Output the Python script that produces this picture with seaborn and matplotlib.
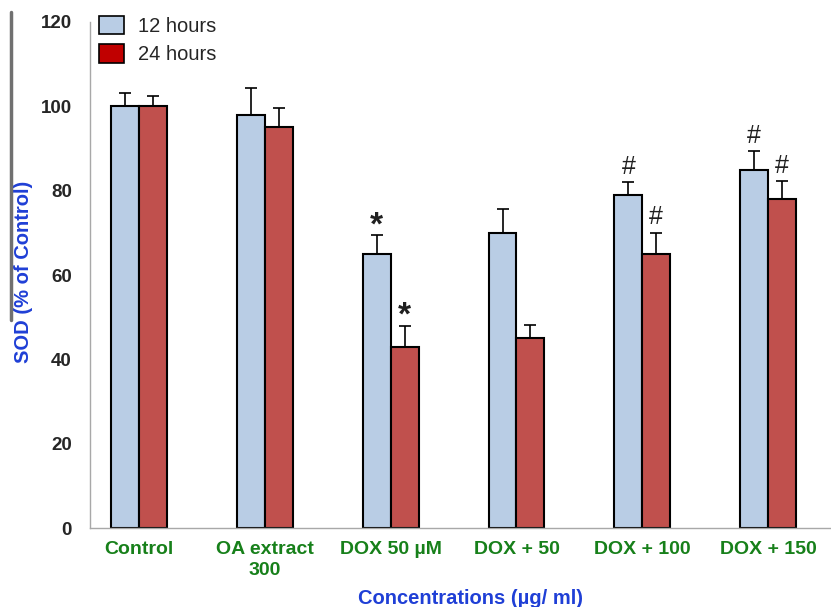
import matplotlib
matplotlib.use('Agg')
import matplotlib.pyplot as plt
import seaborn as sns
import pandas as pd
from matplotlib.patches import Patch
from matplotlib.lines import Line2D

groups = ['Control', 'OA extract\n300', 'DOX 50 µM', 'DOX + 50', 'DOX + 100', 'DOX + 150']
hours = ['12 hours', '24 hours']
sod_12h = [100, 98, 65, 70, 79, 85]
sod_24h = [100, 95, 43, 45, 65, 78]
err_12h = [3.2, 6.3, 4.5, 5.7, 3.0, 4.4]
err_24h = [2.4, 4.6, 5.0, 3.2, 5.0, 4.3]
marks_12h = ['', '', '*', '', '#', '#']
marks_24h = ['', '', '*', '', '#', '#']

df = pd.DataFrame({
    'group': groups * 2,
    'time': [hours[0]] * len(groups) + [hours[1]] * len(groups),
    'sod': sod_12h + sod_24h,
})

sns.set_style('white')
plt.rcParams['font.family'] = ['Liberation Sans', 'DejaVu Sans']

fig = plt.figure(figsize=(8.31, 6.07), dpi=100)
ax = fig.add_axes([0.1083, 0.1301, 0.8917, 0.8337])

bar_colors = ['#B9CDE5', '#C0504D']
sns.barplot(data=df, x='group', y='sod', hue='time', palette=bar_colors,
            saturation=1, width=0.444, gap=0, edgecolor='black', linewidth=1.5,
            errorbar=None, legend=False, ax=ax)

# upper error bars and significance marks
for cont, errs, marks in zip(ax.containers, [err_12h, err_24h], [marks_12h, marks_24h]):
    xs = [b.get_x() + b.get_width() / 2 for b in cont]
    ys = [b.get_height() for b in cont]
    ax.errorbar(xs, ys, yerr=[[0] * len(errs), errs], fmt='none',
                ecolor='black', elinewidth=1.2, capsize=4, capthick=1.2)
    for x, y, e, m in zip(xs, ys, errs, marks):
        if m == '*':
            ax.text(x, y + e - 1.5, m, ha='center', va='bottom', fontsize=24,
                    fontweight='bold', color='#202020')
        elif m:
            ax.text(x, y + e + 0.8, m, ha='center', va='bottom', fontsize=18,
                    color='#202020')

ax.set_ylim(0, 120)
ax.set_xlim(-0.39, 5.5)
ax.set_yticks(range(0, 121, 20))
ax.tick_params(axis='y', length=5, color='#A0A0A0', labelsize=13.5, pad=8)
ax.tick_params(axis='x', length=0, labelsize=14, pad=9)
ax.set_xticks([i + 0.5 for i in range(5)], minor=True)
ax.tick_params(axis='x', which='minor', length=4, color='#C0C0C0', direction='out')
for lbl in ax.get_yticklabels():
    lbl.set_fontweight('bold')
for lbl in ax.get_xticklabels():
    lbl.set_fontweight('bold')
    lbl.set_color('#17801A')
    lbl.set_linespacing(1.35)

ax.set_xlabel('Concentrations (µg/ ml)', fontsize=14.5, fontweight='bold',
              color='#1F3FD6')
ax.xaxis.set_label_coords(0.513, -0.12)
ax.set_ylabel('SOD (% of Control)', fontsize=14.5, fontweight='bold',
              color='#1F3FD6')
ax.yaxis.set_label_coords(-0.077, 0.507)

for side in ['top', 'right']:
    ax.spines[side].set_visible(False)
ax.spines['left'].set_color('#A8A8A8')
ax.spines['bottom'].set_color('#A8A8A8')
ax.spines['left'].set_linewidth(1)
ax.spines['bottom'].set_linewidth(1)

handles = [Patch(facecolor='#B9CDE5', edgecolor='black', linewidth=1.2),
           Patch(facecolor='#C00000', edgecolor='black', linewidth=1.2)]
ax.legend(handles, hours, loc='upper left', bbox_to_anchor=(0.0121, 1.012),
          frameon=False, fontsize=14.5, handlelength=1.24, handleheight=1.04,
          handletextpad=0.7, labelspacing=0.4, borderpad=0, borderaxespad=0)

# stray dark line on the left of the source image
fig.add_artist(Line2D([11 / 831, 11 / 831], [1 - 12 / 607, 1 - 320 / 607],
                      color='#707070', linewidth=2.5))

fig.savefig('out.png', dpi=100)
